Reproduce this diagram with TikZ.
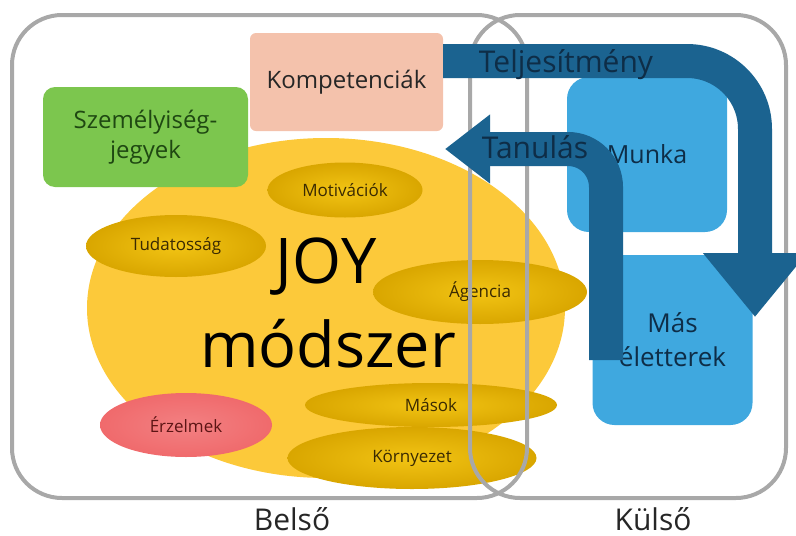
\documentclass[tikz,border=0pt]{standalone}
\usepackage{fontspec}
\setmainfont{Open Sans}
\usetikzlibrary{shapes.geometric,arrows.meta}
\definecolor{framegray}{HTML}{A8A8A8}
\definecolor{kompfill}{HTML}{F4C2AC}
\definecolor{szemfill}{HTML}{7CC64E}
\definecolor{szemtext}{HTML}{1F4812}
\definecolor{joyyellow}{HTML}{FCC93A}
\definecolor{goldlight}{HTML}{F2C414}
\definecolor{golddark}{HTML}{D9A600}
\definecolor{goldtext}{HTML}{3A2A02}
\definecolor{erzfill}{HTML}{F06A6C}
\definecolor{erztext}{HTML}{5C1414}
\definecolor{skyblue}{HTML}{3FA8DF}
\definecolor{arrowblue}{HTML}{1B6390}
\definecolor{navytext}{HTML}{0E2D47}
\tikzset{
  framebox/.style={rectangle,draw=framegray,line width=4pt,rounded corners=50pt},
  colorbox/.style={rectangle,inner sep=0pt,align=center},
  goldoval/.style={ellipse,inner sep=0pt,inner color=goldlight,outer color=golddark,text=goldtext,font=\fontsize{17}{20}\selectfont},
  bigarrow/.style={draw=arrowblue,line width=34pt},
  arrowlabel/.style={text=navytext,font=\fontsize{30}{36}\selectfont},
  sidelabel/.style={text=black!85,font=\fontsize{30}{36}\selectfont}
}
\begin{document}
\begin{tikzpicture}[x=1pt,y=-1pt]
      \clip (0,0) rectangle (796,536);
      \node[colorbox,fill=kompfill,rounded corners=6pt,minimum width=193pt,minimum height=98pt,font=\fontsize{24}{28}\selectfont,text=black!85] (komp) at (346.5,82) {Kompetenciák};
      \node[ellipse,fill=joyyellow,minimum width=478pt,minimum height=340pt] (blob) at (326,308) {};
      \node[colorbox,fill=szemfill,rounded corners=12pt,minimum width=205pt,minimum height=100pt,font=\fontsize{24}{30}\selectfont,text=szemtext] (szem) at (145.5,137) {Személyiség-\\jegyek};
      \node[anchor=base,font=\fontsize{63}{70}\selectfont] (joy) at (326,283) {JOY};
      \node[anchor=base,font=\fontsize{63}{70}\selectfont] (modszer) at (328,367) {módszer};
      % kisebb elemek
      \node[goldoval,minimum width=155pt,minimum height=55pt] (motiv) at (345,190) {Motivációk};
      \node[goldoval,minimum width=180pt,minimum height=62pt] (tudat) at (176,246) {Tudatosság};
      \node[goldoval,minimum width=214pt,minimum height=64pt] (agencia) at (480,292) {Ágencia};
      \node[goldoval,minimum width=252pt,minimum height=44pt] (masok) at (431,405) {Mások};
      \node[goldoval,minimum width=249pt,minimum height=62pt] (korny) at (412,458) {Környezet};
      \node[goldoval,inner color=erzfill!85!white,outer color=erzfill,text=erztext,minimum width=172pt,minimum height=64pt] (erz) at (186,425) {Érzelmek};
      % keretek
      \node[framebox,minimum width=515pt,minimum height=483pt] (belso) at (269.5,256.5) {};
      \node[framebox,minimum width=316pt,minimum height=483pt] (kulso) at (628,256.5) {};
      \node[colorbox,fill=skyblue,rounded corners=22pt,minimum width=160pt,minimum height=155pt,font=\fontsize{25}{30}\selectfont,text=navytext] (munka) at (647,154.5) {Munka};
      \node[colorbox,fill=skyblue,rounded corners=22pt,minimum width=160pt,minimum height=170pt,font=\fontsize{26}{34}\selectfont,text=navytext] (mas) at (672.5,340) {Más\\életterek};
      % nyilak
      \coordinate (teljStart) at (443,61);
      \coordinate (teljEnd) at (755,317);
      \coordinate (tanStart) at (606,360);
      \coordinate (tanEnd) at (445,149);
      \draw[bigarrow,rounded corners=68pt,-{Triangle[width=100pt,length=64pt]}] (teljStart) -- (755,61) -- (teljEnd);
      \draw[bigarrow,rounded corners=38pt,-{Triangle[width=66pt,length=45pt]}] (tanStart) -- (606,149) -- (tanEnd);
      \node[arrowlabel,anchor=base] (telj) at (566,72) {Teljesítmény};
      \node[arrowlabel,anchor=base] (tan) at (535,158) {Tanulás};
      \node[sidelabel,anchor=base] (belsolabel) at (292,530) {Belső};
      \node[sidelabel,anchor=base] (kulsolabel) at (653,530) {Külső};
\end{tikzpicture}
\end{document}
